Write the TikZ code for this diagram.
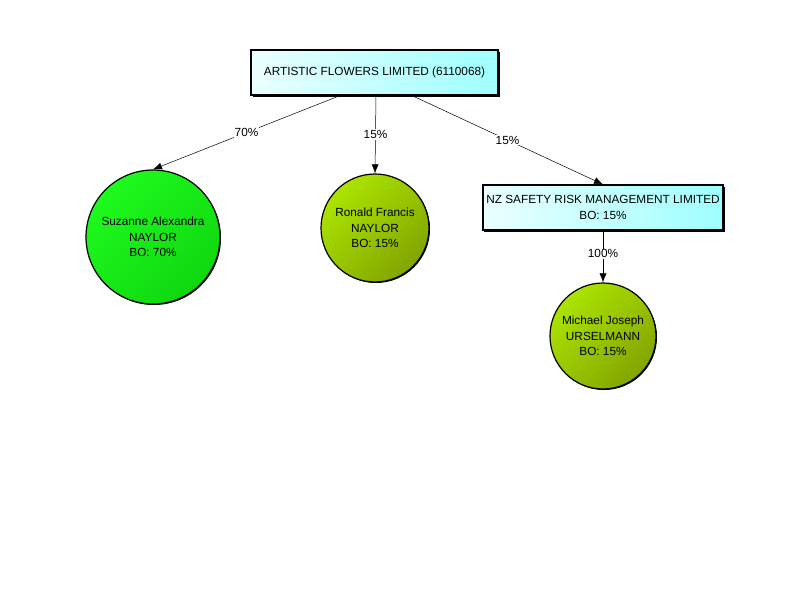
\documentclass[tikz,border=0pt]{standalone}
\usepackage{fontspec}
\setmainfont{Liberation Sans}
\usetikzlibrary{arrows.meta,shadows}

\begin{document}
\begin{tikzpicture}[x=1pt, y=-1pt,
        font=\fontsize{11.8}{15.5}\selectfont,
        company/.style={draw, line width=1.2pt, rectangle, align=center,
            left color=cyan!8, right color=cyan!38,
            drop shadow={shadow xshift=1.5pt, shadow yshift=-1.5pt, fill=black, opacity=1}},
        person/.style={draw, line width=1.2pt, circle, align=center, inner sep=0pt,
            drop shadow={shadow xshift=1pt, shadow yshift=-1pt, fill=black, opacity=1}},
        owner/.style={person, top color={rgb,255:red,30;green,250;blue,30}, bottom color={rgb,255:red,15;green,215;blue,15}, shading angle=45},
        minor/.style={person, top color={rgb,255:red,172;green,228;blue,0}, bottom color={rgb,255:red,130;green,165;blue,0}, shading angle=45},
        share/.style={-{Latex[length=9pt,width=7pt]}, line width=0.5pt},
        pct/.style={fill=white, inner sep=1pt},
    ]
    \useasboundingbox (0,0) rectangle (800,600);

    \node[company, minimum width=247pt, minimum height=45pt] (afl) at (374.5,72.5) {ARTISTIC FLOWERS LIMITED (6110068)};
    \node[company, minimum width=240pt, minimum height=45pt] (nzs) at (603,207.5) {NZ SAFETY RISK MANAGEMENT LIMITED\\BO: 15\%};

    \node[owner, minimum size=134pt] (suz) at (153,237) {Suzanne Alexandra\\NAYLOR\\BO: 70\%};
    \node[minor, minimum size=108pt] (ron) at (375,228) {Ronald Francis\\NAYLOR\\BO: 15\%};
    \node[minor, minimum size=106pt] (mic) at (603,336) {Michael Joseph\\URSELMANN\\BO: 15\%};

    \draw[share] ([xshift=-34.5pt]afl.south) -- node[pct, pos=0.5] {70\%} (suz.north);
    \draw[share] ([xshift=1.5pt]afl.south) -- node[pct, pos=0.5] {15\%} (ron.north);
    \draw[share] ([xshift=37.5pt]afl.south) -- node[pct, pos=0.5] {15\%} (nzs.north);
    \draw[share] (nzs.south) -- node[pct, pos=0.45] {100\%} (mic.north);
\end{tikzpicture}
\end{document}
